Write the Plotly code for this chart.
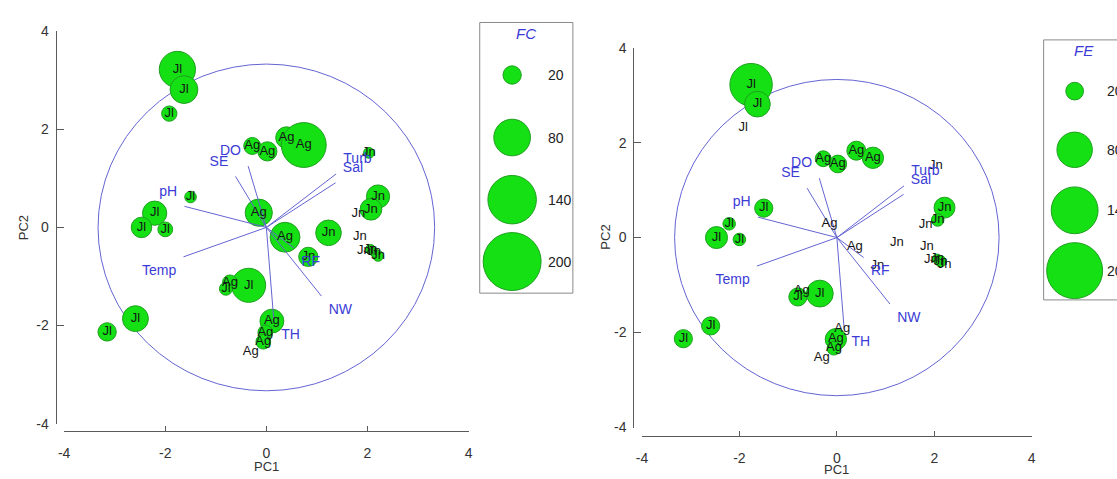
import plotly.graph_objects as go

W, H = 1117, 479

# ---------------- data ----------------
groups = ["Jl", "Jl", "Jl", "Ag", "Ag", "Ag", "Ag", "Jn", "Jl", "Ag",
          "Jn", "Jn", "Jn", "Jn", "Jn", "Jn", "Jn", "Jn", "Jn", "Jn",
          "Ag", "Jl", "Jl", "Jl", "Jl", "Ag", "Jl", "Jl", "Jl", "Ag",
          "Ag", "Ag", "Ag"]
pc1 = [-1.76, -1.63, -1.92, -0.28, 0.02, 0.40, 0.74, 2.03, -1.50, -0.15,
       2.21, 2.07, 1.82, 1.23, 1.85, 1.93, 2.06, 2.13, 2.21, 0.83,
       0.37, -2.21, -2.47, -2.00, -0.35, -0.72, -0.80, -2.59, -3.15, 0.11,
       -0.02, -0.06, -0.31]
pc2 = [3.22, 2.81, 2.32, 1.66, 1.55, 1.83, 1.68, 1.52, 0.62, 0.30,
       0.63, 0.37, 0.28, -0.11, -0.20, -0.47, -0.45, -0.50, -0.58, -0.60,
       -0.20, 0.29, 0.00, -0.04, -1.18, -1.12, -1.25, -1.86, -2.13, -1.91,
       -2.14, -2.33, -2.53]
fc = [78, 46, 14, 17, 22, 28, 120, 7, 8, 44,
      32, 28, 0, 39, 0, 0, 6, 5, 7, 22,
      53, 35, 25, 13, 69, 13, 10, 40, 20, 34,
      13, 13, 0]
fe = [115, 42, 0, 16, 20, 23, 29, 0, 21, 0,
      28, 10, 0, 0, 0, 0, 6, 8, 0, 0,
      0, 10, 31, 10, 46, 0, 21, 21, 21, 0,
      29, 12, 0]

vec_names = ["DO", "SE", "pH", "Temp", "Turb", "Sal", "RF", "NW", "TH"]
vec_x = [-0.36, -0.61, -1.62, -1.64, 1.38, 1.37, 0.55, 1.09, 0.15]
vec_y = [1.25, 1.04, 0.43, -0.60, 1.09, 0.91, -0.42, -1.40, -1.92]

legend_values = [20, 80, 140, 200]
tick_vals = [-4, -2, 0, 2, 4]
tick_text = ["-4", "-2", "0", "2", "4"]
circle_r = 3.33

# ---------------- styles ----------------
FONT = "Arial, 'Liberation Sans', sans-serif"
GREEN = "#14e014"
GREEN_LINE = "#1f9f1f"
VEC_LINE = "#6464d2"
VEC_TEXT = "#3b3bd6"
AXIS = "#5a5a5a"

def px(x):
    return x / W

def py(y):
    return 1 - y / H

panels = [
    dict(xa="x", ya="y", vals=fc, sizeref=0.119, title="FC",
         xdom=[58.7, 466.7], ydom=[430, 24], yaxx=50, xaxy=438,
         pc1=(262.7, 474), pc2=(18, 227),
         box=(478, 572, 15, 295), title_xy=(525, 26),
         bub_x=510.7, bub_y=[69.3, 134, 198.3, 262.3], lab_x=545),
    dict(xa="x2", ya="y2", vals=fe, sizeref=0.1276, title="FE",
         xdom=[641.7, 1035], ydom=[434, 41], yaxx=633, xaxy=443,
         pc1=(838, 477), pc2=(604, 237),
         box=(1047, 1140, 33, 302), title_xy=(1088, 44),
         bub_x=1078.3, bub_y=[86, 146.7, 209.3, 271.7], lab_x=1109),
]

fig = go.Figure()
annotations = []
shapes = []

def textpos(x, y):
    v = "top" if y > 0 else "bottom"
    h = "right" if x > 0 else "left"
    return f"{v} {h}"

for i, p in enumerate(panels):
    xa, ya = p["xa"], p["ya"]
    # bubbles
    idx = [k for k, v in enumerate(p["vals"]) if v > 0]
    fig.add_trace(go.Scatter(
        x=[pc1[k] for k in idx], y=[pc2[k] for k in idx], mode="markers",
        marker=dict(size=[p["vals"][k] for k in idx], sizemode="area",
                    sizeref=p["sizeref"], color=GREEN,
                    line=dict(color=GREEN_LINE, width=1), opacity=1),
        xaxis=xa, yaxis=ya, showlegend=False, hoverinfo="skip", cliponaxis=False))
    # vectors
    lx, ly = [], []
    for vx, vy in zip(vec_x, vec_y):
        lx += [0, vx, None]
        ly += [0, vy, None]
    fig.add_trace(go.Scatter(x=lx, y=ly, mode="lines",
                             line=dict(color=VEC_LINE, width=1),
                             xaxis=xa, yaxis=ya, showlegend=False, hoverinfo="skip"))
    # sample labels
    fig.add_trace(go.Scatter(
        x=pc1, y=pc2, mode="text", text=groups, textposition="middle center",
        textfont=dict(family=FONT, size=13, color="#151515"),
        xaxis=xa, yaxis=ya, showlegend=False, hoverinfo="skip", cliponaxis=False))
    # vector labels (invisible marker gives the text offset)
    fig.add_trace(go.Scatter(
        x=vec_x, y=vec_y, mode="markers+text", text=vec_names,
        marker=dict(size=10, opacity=0),
        textposition=[textpos(a, b) for a, b in zip(vec_x, vec_y)],
        textfont=dict(family=FONT, size=14, color=VEC_TEXT),
        xaxis=xa, yaxis=ya, showlegend=False, hoverinfo="skip", cliponaxis=False))
    # circle
    shapes.append(dict(type="circle", xref=xa, yref=ya, x0=-circle_r, x1=circle_r,
                       y0=-circle_r, y1=circle_r, line=dict(color=VEC_LINE, width=1),
                       layer="below"))
    # axis titles
    annotations.append(dict(x=px(p["pc1"][0]), y=py(p["pc1"][1]), xref="paper", yref="paper",
                            text="PC1", showarrow=False, xanchor="center", yanchor="middle",
                            font=dict(family=FONT, size=13, color="#333")))
    annotations.append(dict(x=px(p["pc2"][0]), y=py(p["pc2"][1]), xref="paper", yref="paper",
                            text="PC2", showarrow=False, textangle=-90,
                            xanchor="center", yanchor="middle",
                            font=dict(family=FONT, size=13, color="#333")))
    # legend box
    bx0, bx1, by0, by1 = p["box"]
    shapes.append(dict(type="rect", xref="paper", yref="paper", x0=px(bx0), x1=px(bx1),
                       y0=py(by1), y1=py(by0), line=dict(color="#8a8a8a", width=1),
                       fillcolor="white", layer="below"))
    annotations.append(dict(x=px(p["title_xy"][0]), y=py(p["title_xy"][1]), xref="paper",
                            yref="paper", text=f"<i>{p['title']}</i>", showarrow=False,
                            xanchor="center", yanchor="middle",
                            font=dict(family=FONT, size=15, color=VEC_TEXT)))
    fig.add_trace(go.Scatter(
        x=[p["bub_x"]] * len(legend_values), y=p["bub_y"], mode="markers",
        marker=dict(size=legend_values, sizemode="area", sizeref=p["sizeref"],
                    color=GREEN, opacity=1, line=dict(color=GREEN_LINE, width=1)),
        xaxis="x3", yaxis="y3", showlegend=False, hoverinfo="skip", cliponaxis=False))
    for v, yy in zip(legend_values, p["bub_y"]):
        annotations.append(dict(x=px(p["lab_x"]), y=py(yy), xref="paper", yref="paper",
                                text=str(v), showarrow=False, xanchor="left",
                                yanchor="middle",
                                font=dict(family=FONT, size=14, color="#222")))

axis_common = dict(range=[-4, 4], tickvals=tick_vals, ticktext=tick_text,
                   showline=True, linecolor=AXIS, linewidth=1, ticks="inside",
                   tickcolor=AXIS, showgrid=False, zeroline=False,
                   tickfont=dict(family=FONT, size=14, color="#333"),
                   anchor="free", fixedrange=True)

layout = dict(width=W, height=H, autosize=False,
              margin=dict(l=0, r=0, t=0, b=0, pad=0),
              paper_bgcolor="white", plot_bgcolor="rgba(0,0,0,0)",
              showlegend=False, shapes=shapes, annotations=annotations,
              font=dict(family=FONT))

for i, p in enumerate(panels):
    sx = "" if i == 0 else "2"
    layout["xaxis" + sx] = dict(axis_common, domain=[px(p["xdom"][0]), px(p["xdom"][1])],
                                position=py(p["xaxy"]), ticklen=5, ticklabelstandoff=9)
    layout["yaxis" + sx] = dict(axis_common, domain=[py(p["ydom"][0]), py(p["ydom"][1])],
                                position=px(p["yaxx"]), ticklen=7, ticklabelstandoff=4)

layout["xaxis3"] = dict(domain=[0, 1], range=[0, W], visible=False, anchor="y3", fixedrange=True)
layout["yaxis3"] = dict(domain=[0, 1], range=[H, 0], visible=False, anchor="x3", fixedrange=True)

fig.update_layout(**layout)
fig.write_html("out.html")
